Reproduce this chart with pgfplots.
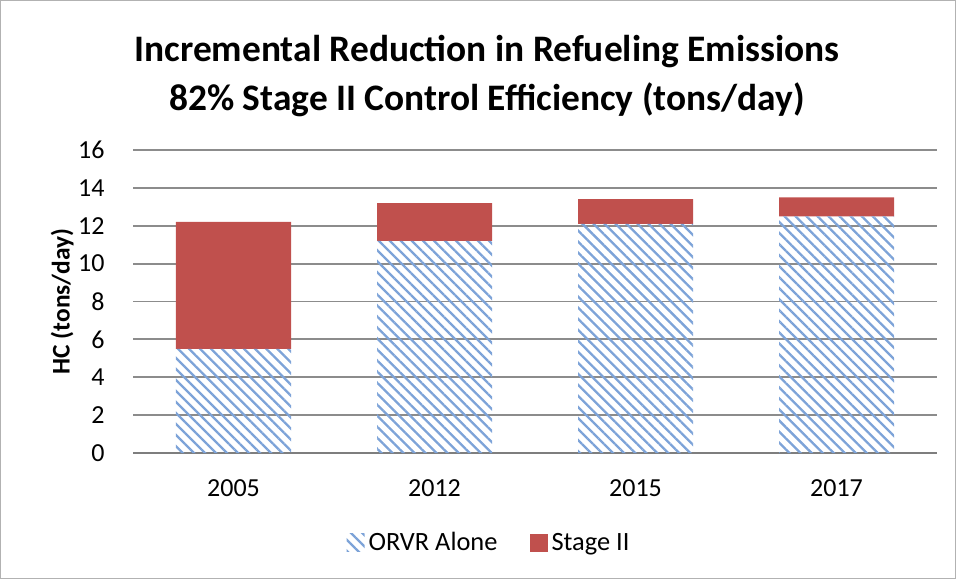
\documentclass[border=0pt]{standalone}
\usepackage{pgfplots}
\pgfplotsset{compat=1.18}
\usepackage{fontspec}
\setmainfont{Carlito}
\usetikzlibrary{patterns.meta}
\definecolor{stagered}{HTML}{C0504D}
\definecolor{hatchblue}{RGB}{125,163,216}
\definecolor{gridgray}{HTML}{8C8C8C}

\begin{document}
\begin{tikzpicture}
\begin{axis}[
  scale only axis,
  width=402pt, height=151.5pt,
  ybar stacked,
  bar width=57.5pt,
  xmin=-0.5, xmax=3.5,
  ymin=0, ymax=16,
  ytick={0,2,...,16},
  xtick=data,
  xticklabels={2005,2012,2015,2017},
  major tick length=0pt,
  axis line style={draw=none},
  ymajorgrids,
  grid style={gridgray, line width=0.9pt},
  /pgf/number format/assume math mode=true,
  tick label style={font=\fontsize{13}{15}\selectfont},
  yticklabel style={anchor=east, inner sep=0pt, xshift=-14pt},
  xticklabel style={anchor=center, inner sep=0pt, yshift=-17.5pt},
  ylabel={HC (tons/day)},
  ylabel style={at={(axis description cs:-0.088,0.5)}, anchor=center, font=\fontsize{12.7}{14}\selectfont\bfseries},
  area legend,
  legend columns=2,
  legend style={draw=none, fill=none, at={(axis description cs:0.444,-0.297)}, anchor=center,
    font=\fontsize{13.2}{15}\selectfont, /tikz/every even column/.append style={column sep=14pt}},
  legend image code/.code={\draw[#1,draw=none] (0pt,-4.5pt) rectangle (9pt,4.5pt);},
]
\addplot+[draw=none, fill=none, pattern={Lines[angle=-45, distance=3.9pt, line width=1.15pt]}, pattern color=hatchblue]
  coordinates {(0,5.5) (1,11.2) (2,12.1) (3,12.5)};
\addlegendentry{ORVR Alone}
\addplot+[draw=none, fill=stagered]
  coordinates {(0,6.7) (1,2.0) (2,1.3) (3,1.0)};
\addlegendentry{Stage II}
\draw[gridgray!90!black, line width=0.9pt] (axis cs:-0.5,0) -- (axis cs:3.5,0);
\end{axis}
\node[font=\fontsize{18.7}{22}\selectfont\bfseries] at (177pt,200.5pt) {Incremental Reduction in Refueling Emissions};
\node[font=\fontsize{18.7}{22}\selectfont\bfseries] at (177pt,176.5pt) {82\% Stage II Control Efficiency (tons/day)};
\draw[gray!60, line width=0.5pt] (-66.25pt,-62.75pt) rectangle (411.25pt,226.25pt);
\end{tikzpicture}
\end{document}
